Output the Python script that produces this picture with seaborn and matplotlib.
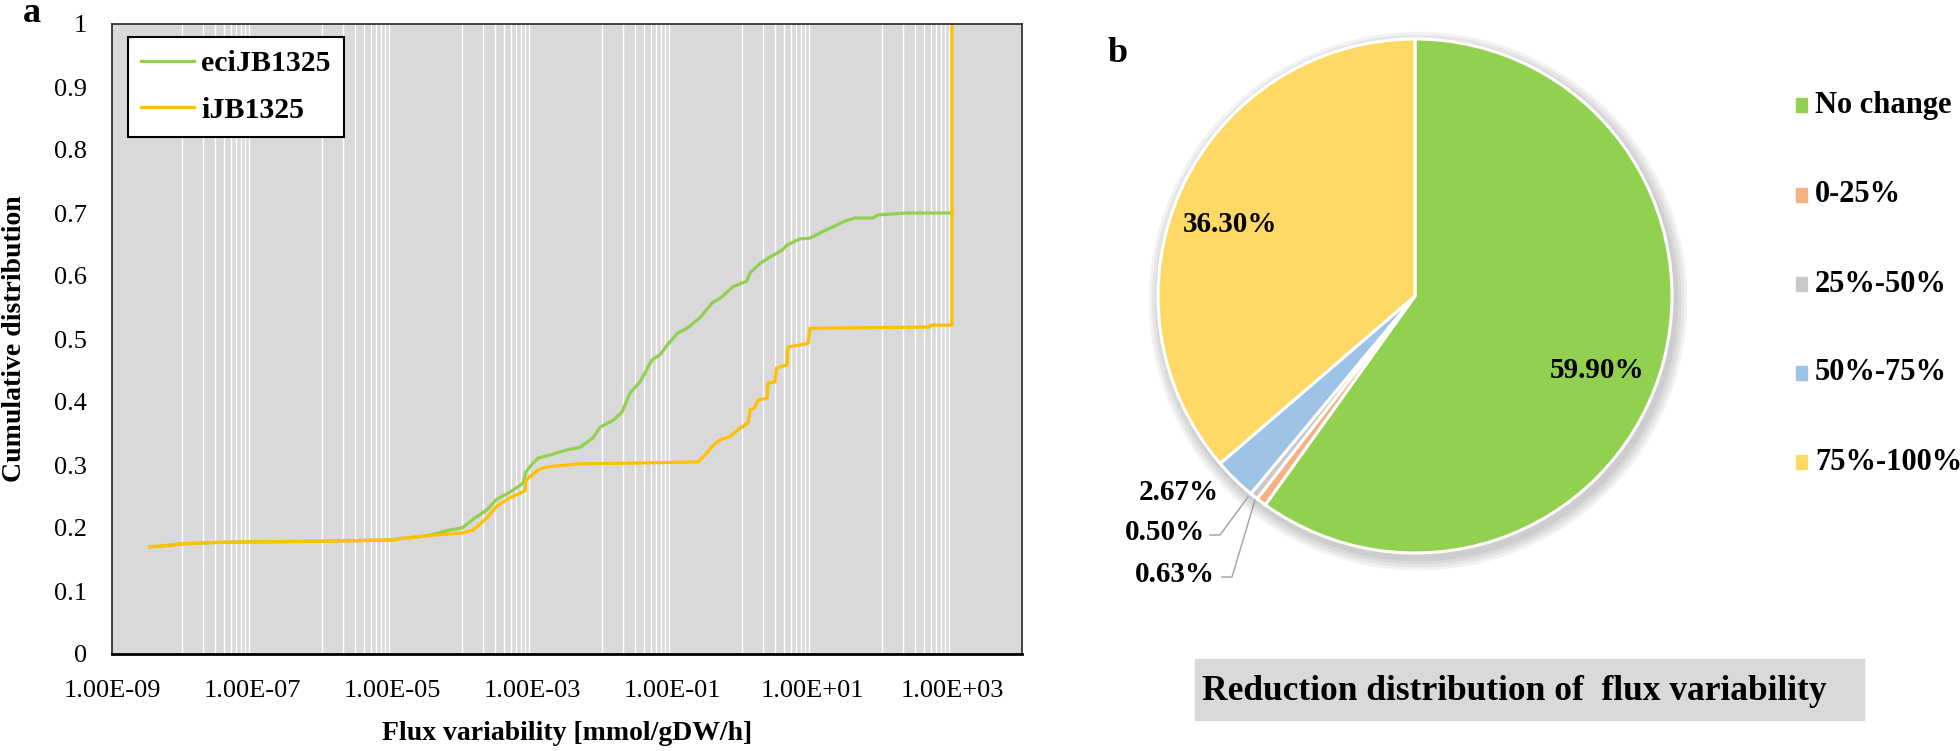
import numpy as np
import matplotlib
matplotlib.use("Agg")
import matplotlib.pyplot as plt
import seaborn as sns
from matplotlib.ticker import FixedLocator, LogLocator, NullFormatter
from matplotlib.patches import Rectangle, Circle
from matplotlib.lines import Line2D

# ---------------- data ----------------
eci_x = [3.5e-9, 6e-9, 1e-8, 3e-8, 1e-7, 1e-6, 1e-5, 1.3e-5, 3.3e-5, 6.7e-5, 1e-4,
         1.53e-4, 2.28e-4, 3.16e-4, 4.85e-4, 7.43e-4, 8.2e-4, 1.03e-3, 1.22e-3, 1.81e-3,
         3.16e-3, 4.85e-3, 7.43e-3, 9.36e-3, 1.44e-2, 1.93e-2, 2.51e-2, 3.49e-2, 4.11e-2,
         5.18e-2, 6.74e-2, 8.48e-2, 0.122, 0.164, 0.251, 0.372, 0.518, 0.743, 1.18, 1.30,
         1.81, 2.51, 3.73, 4.39, 6.74, 9.36, 13.9, 19.95, 29.6, 41.1, 74.3, 87.7, 228, 1000]
eci_y = [0.170, 0.172, 0.175, 0.177, 0.178, 0.179, 0.181, 0.183, 0.188, 0.197, 0.200,
         0.216, 0.229, 0.246, 0.257, 0.271, 0.289, 0.303, 0.311, 0.316,
         0.324, 0.328, 0.343, 0.360, 0.371, 0.384, 0.414, 0.432, 0.446,
         0.467, 0.475, 0.490, 0.510, 0.517, 0.534, 0.557, 0.567, 0.583, 0.592, 0.605,
         0.620, 0.630, 0.641, 0.649, 0.659, 0.660, 0.670, 0.678, 0.687, 0.692, 0.692, 0.697, 0.700, 0.700]

ijb_x = [3.5e-9, 6e-9, 1e-8, 3e-8, 1e-7, 1e-6, 1e-5, 1.3e-5, 3.3e-5, 1e-4, 1.44e-4,
         2.13e-4, 3.16e-4, 4.85e-4, 7.94e-4, 8.2e-4, 1e-3, 1.22e-3, 1.64e-3, 4.85e-3,
         2.77e-2, 0.235, 0.296, 0.372, 0.485, 0.674, 0.877, 1.22, 1.30, 1.50, 1.69, 2.28,
         2.35, 2.96, 3.10, 4.39, 4.50, 8.77, 9.36, 485, 500, 1000, 1000]
ijb_y = [0.170, 0.172, 0.175, 0.177, 0.178, 0.179, 0.181, 0.183, 0.188, 0.192, 0.197,
         0.213, 0.235, 0.248, 0.259, 0.276, 0.284, 0.292, 0.297, 0.302,
         0.303, 0.305, 0.316, 0.329, 0.340, 0.345, 0.356, 0.367, 0.387, 0.390, 0.403, 0.406,
         0.430, 0.432, 0.454, 0.459, 0.487, 0.493, 0.517, 0.519, 0.522, 0.522, 1.0]

series_names = ["eciJB1325", "iJB1325"]
x_ticks = [1e-9, 1e-7, 1e-5, 1e-3, 1e-1, 1e1, 1e3]
x_tick_labels = ["1.00E-09", "1.00E-07", "1.00E-05", "1.00E-03", "1.00E-01", "1.00E+01", "1.00E+03"]
y_ticks = [0, 0.1, 0.2, 0.3, 0.4, 0.5, 0.6, 0.7, 0.8, 0.9, 1.0]
y_tick_labels = ["0", "0.1", "0.2", "0.3", "0.4", "0.5", "0.6", "0.7", "0.8", "0.9", "1"]

pie_labels = ["No change", "0-25%", "25%-50%", "50%-75%", "75%-100%"]
pie_values = [59.90, 0.63, 0.50, 2.67, 36.30]
pie_colors = ["#92D050", "#F4B183", "#C9C9C9", "#9DC3E6", "#FFD966"]

# ---------------- figure ----------------
W, H = 1960, 751
fig = plt.figure(figsize=(W / 100, H / 100), dpi=100)
SERIF = ["Liberation Serif", "DejaVu Serif"]
plt.rcParams["font.family"] = SERIF


def fx(x):
    return x / W


def fy(y):
    return 1 - y / H


# ---- panel a ----
axL, axR, axT, axB = 112, 1022, 24, 654
ax = fig.add_axes([fx(axL), fy(axB), (axR - axL) / W, (axB - axT) / H])
ax.set_facecolor("#D9D9D9")
sns.lineplot(x=eci_x, y=eci_y, ax=ax, color="#92D050", linewidth=2.3,
             estimator=None, sort=False, label=series_names[0])
sns.lineplot(x=ijb_x, y=ijb_y, ax=ax, color="#FFC000", linewidth=2.3,
             estimator=None, sort=False, label=series_names[1])
ax.set_xscale("log")
ax.set_xlim(1e-9, 1e4)
ax.set_ylim(0, 1)
ax.xaxis.set_major_locator(FixedLocator(x_ticks))
ax.set_xticklabels(x_tick_labels)
ax.xaxis.set_minor_locator(LogLocator(base=100, subs=np.arange(1, 10), numticks=200))
ax.xaxis.set_minor_formatter(NullFormatter())
ax.set_yticks(y_ticks)
ax.set_yticklabels(y_tick_labels)
ax.grid(False)
ax.grid(which="minor", axis="x", color="white", linewidth=1.0)
ax.set_axisbelow(True)
ax.tick_params(axis="both", which="both", length=0)
ax.tick_params(axis="x", pad=19, labelsize=19)
ax.tick_params(axis="y", pad=18, labelsize=19)
for lab in ax.get_xticklabels() + ax.get_yticklabels():
    lab.set_family(SERIF)
for s in ["top", "left", "right"]:
    ax.spines[s].set_color("#262626")
    ax.spines[s].set_linewidth(1.2)
ax.spines["bottom"].set_color("black")
ax.spines["bottom"].set_linewidth(2.0)

ax.set_xlabel("")
ax.set_ylabel("")
fig.text(fx(567), fy(733), "Flux variability [mmol/gDW/h]", ha="center", va="center",
         fontsize=20, fontweight="bold", family=SERIF)
fig.text(fx(15), fy((axT + axB) / 2), "Cumulative distribution", ha="center", va="center",
         rotation=90, fontsize=20, fontweight="bold", family=SERIF)
fig.text(fx(32), fy(14), "a", ha="center", va="center", fontsize=26,
         fontweight="bold", family=SERIF)

leg = ax.legend(loc="upper left", bbox_to_anchor=(fx(128), fy(37)),
                bbox_transform=fig.transFigure, frameon=True, fancybox=False,
                framealpha=1, edgecolor="black", facecolor="white",
                prop={"family": SERIF, "weight": "bold", "size": 21.5},
                handlelength=1.75, handletextpad=0.25, labelspacing=0.65,
                borderpad=0.45, borderaxespad=0)
leg.get_frame().set_linewidth(1.5)

# ---- panel b : pie ----
cx, cy, r = 1415, 296, 257
half = 300
pax = fig.add_axes([fx(cx - half), fy(cy + half), 2 * half / W, 2 * half / H])
L = half / r
# soft shadow
for i in range(4):
    pax.add_patch(Circle((0.012, -0.02), 1.0 + 0.012 * (i + 1), color="black",
                         alpha=0.05, lw=0, zorder=0))
wedges, _ = pax.pie(pie_values, colors=pie_colors, startangle=90, counterclock=False,
                    radius=1.0, wedgeprops=dict(edgecolor="white", linewidth=2.2))
for w in wedges:
    w.set_zorder(2)
pax.set_aspect("auto")
pax.set_xlim(-L, L)
pax.set_ylim(-L, L)
pax.axis("off")


def pdata(x, y):
    return (x - cx) / r, (cy - y) / r


lab_kw = dict(fontsize=21, fontweight="bold", family=SERIF, zorder=5)
pax.text(*pdata(1597, 370), "59.90%", ha="center", va="center", **lab_kw)
pax.text(*pdata(1230, 225), "36.30%", ha="center", va="center", **lab_kw)
pax.text(*pdata(1219, 492), "2.67%", ha="right", va="center", **lab_kw)
pax.text(*pdata(1205, 533), "0.50%", ha="right", va="center", **lab_kw)
pax.text(*pdata(1215, 575), "0.63%", ha="right", va="center", **lab_kw)
for pts in ([(1210, 535), (1220, 535), (1248, 497)],
            [(1222, 577), (1232, 577), (1255, 500)]):
    xs, ys = zip(*[pdata(*p) for p in pts])
    pax.add_line(Line2D(xs, ys, color="#A6A6A6", lw=1.1, zorder=4))

# pie legend
leg_y = [105, 195, 284, 373, 462]
for lab, col, yy in zip(pie_labels, pie_colors, leg_y):
    fig.patches.append(Rectangle((fx(1796), fy(yy + 7)), 11 / W, 14 / H,
                                 transform=fig.transFigure, color=col, zorder=3))
    fig.text(fx(1815), fy(yy), lab, ha="left", va="center", fontsize=22,
             fontweight="bold", family=SERIF)

fig.text(fx(1118), fy(54), "b", ha="center", va="center", fontsize=26,
         fontweight="bold", family=SERIF)

# bottom title box
fig.patches.append(Rectangle((fx(1195), fy(720)), (1864 - 1195) / W, (720 - 659) / H,
                             transform=fig.transFigure, color="#D9D9D9", zorder=1))
t = fig.text(fx(1202), fy(692), "Reduction distribution of  flux variability", ha="left",
             va="center", fontsize=26, fontweight="bold", family=SERIF, zorder=3)
fig.canvas.draw()
bb = t.get_window_extent(fig.canvas.get_renderer())
t.set_fontsize(26 * 625 / bb.width)

fig.savefig("out.png", dpi=100)
